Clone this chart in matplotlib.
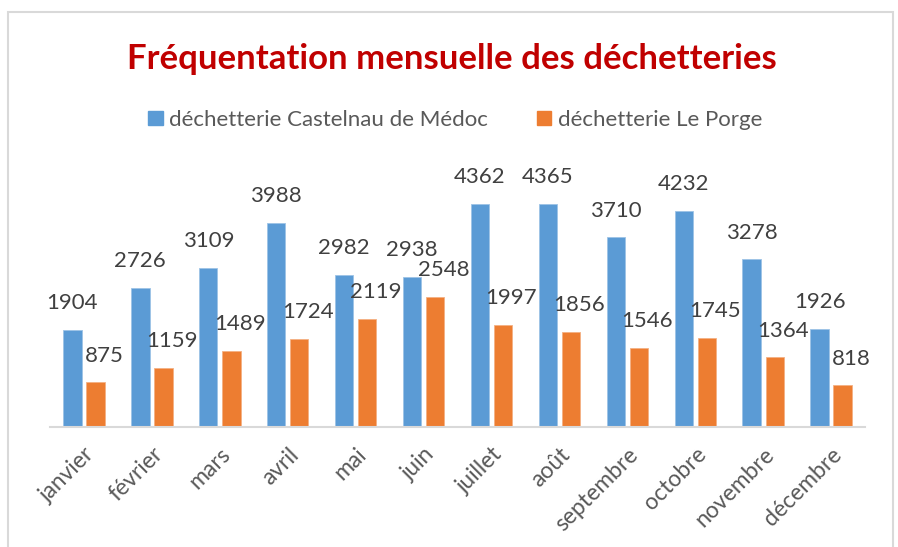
import matplotlib
matplotlib.use('Agg')
import matplotlib.pyplot as plt
import numpy as np
from matplotlib.patches import Rectangle, Patch

plt.rcParams['font.family'] = ['Lato', 'DejaVu Sans']

# données : fréquentation mensuelle
mois = ['janvier', 'février', 'mars', 'avril', 'mai', 'juin', 'juillet',
        'août', 'septembre', 'octobre', 'novembre', 'décembre']
castelnau = [1904, 2726, 3109, 3988, 2982, 2938, 4362, 4365, 3710, 4232, 3278, 1926]
le_porge = [875, 1159, 1489, 1724, 2119, 2548, 1997, 1856, 1546, 1745, 1364, 818]

bleu = '#5B9BD5'
orange = '#ED7D31'
gris = '#595959'

fig = plt.figure(figsize=(8.98, 5.47), dpi=100)
ax = fig.add_axes([0.0557, 0.2194, 0.9076, 0.4673])

x = np.arange(len(mois))
w = 0.27
b1 = ax.bar(x - 0.17, castelnau, w, color=bleu, edgecolor='#9DC3E6', linewidth=0.6)
b2 = ax.bar(x + 0.17, le_porge, w, color=orange, edgecolor='#F4B183', linewidth=0.6)

# étiquettes de valeurs
for rect, v in zip(b1, castelnau):
    ax.annotate(str(v), (rect.get_x() + rect.get_width() / 2, v),
                xytext=(0, 12), textcoords='offset points',
                ha='center', va='bottom', fontsize=16, color='#404040')
for rect, v in zip(b2, le_porge):
    ax.annotate(str(v), (rect.get_x() + rect.get_width() / 2, v),
                xytext=(6, 12), textcoords='offset points',
                ha='center', va='bottom', fontsize=16, color='#404040')

ax.set_xlim(-0.5, len(mois) - 0.5)
ax.set_ylim(0, 5000)
ax.set_yticks([])
for s in ['top', 'right', 'left']:
    ax.spines[s].set_visible(False)
ax.spines['bottom'].set_color('#D9D9D9')
ax.spines['bottom'].set_linewidth(1.5)
ax.set_xticks(x)
ax.set_xticklabels(mois, rotation=45, ha='right', rotation_mode='anchor',
                   fontsize=16.5, color=gris)
ax.tick_params(axis='x', length=0, pad=12)

fig.text(0.503, 0.893, 'Fréquentation mensuelle des déchetteries',
         ha='center', va='center', fontsize=25, fontweight='bold', color='#C00000')

handles = [Patch(color=bleu), Patch(color=orange)]
fig.legend(handles, ['déchetterie Castelnau de Médoc', 'déchetterie Le Porge'],
           loc='center', bbox_to_anchor=(0.507, 0.781), ncol=2, frameon=False,
           fontsize=16, labelcolor=gris, handlelength=0.65, handleheight=0.65,
           handletextpad=0.3, columnspacing=2.2)

# cadre du graphique
fig.patches.append(Rectangle((8 / 898, -0.05), 885 / 898, 1.05 - 12 / 547,
                             transform=fig.transFigure, fill=False,
                             edgecolor='#D9D9D9', linewidth=1.5))

fig.savefig('out.png', dpi=100)
